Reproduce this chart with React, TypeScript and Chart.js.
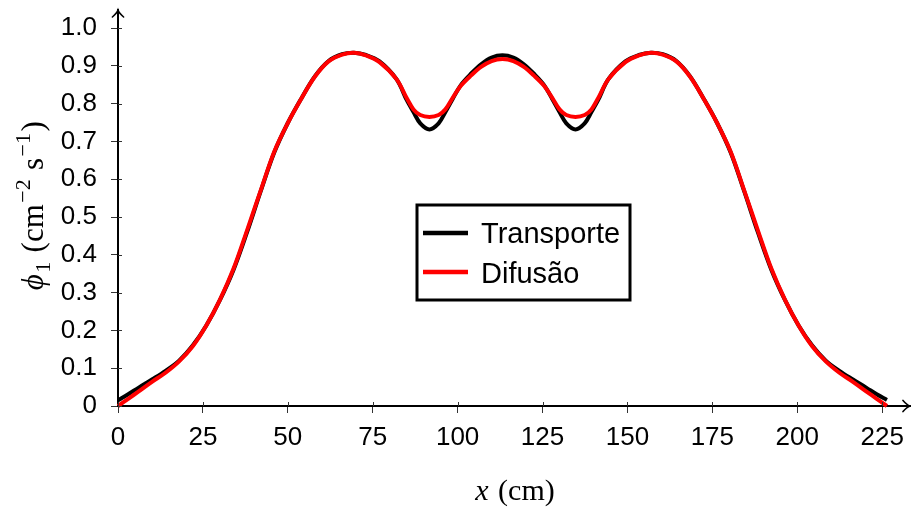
import React, { useEffect, useRef } from "react";
import { Chart, registerables } from "chart.js";

Chart.register(...registerables);

// ---- data ----
const xValues = [
  0, 3, 6, 10, 14, 18, 22, 26, 30, 34, 38, 42, 46, 50, 54, 58, 62, 66, 69.5, 73, 77, 82, 85, 87, 89, 91.7,
  94.4, 96.4, 98.5, 101, 104, 107, 110, 113.2,
  116.4, 119.4, 122.4, 125.4, 127.9, 130, 132, 134.7, 137.4, 139.4, 141.4, 144.4, 149.4, 153.4, 156.9,
  160.4, 164.4, 168.4, 172.4, 176.4, 180.4, 184.4, 188.4, 192.4, 196.4, 200.4, 204.4, 208.4, 212.4,
  216.4, 220.4, 223.4, 226.4,
];

const transporte = [
  0.015, 0.031, 0.048, 0.07, 0.093, 0.12, 0.16, 0.213, 0.28, 0.36, 0.46, 0.568, 0.671, 0.749, 0.814, 0.873,
  0.913, 0.931, 0.935, 0.929, 0.912, 0.865, 0.81, 0.778, 0.748, 0.732, 0.748, 0.778, 0.812, 0.85, 0.88,
  0.905, 0.922, 0.928,
  0.922, 0.905, 0.88, 0.85, 0.812, 0.778, 0.748, 0.732, 0.748, 0.778, 0.81, 0.865, 0.912, 0.929, 0.935,
  0.931, 0.913, 0.873, 0.814, 0.749, 0.671, 0.568, 0.46, 0.36, 0.28, 0.213, 0.16, 0.12, 0.093, 0.07,
  0.048, 0.031, 0.016,
];

const difusao = [
  0.0, 0.019, 0.038, 0.064, 0.088, 0.118, 0.158, 0.213, 0.281, 0.363, 0.465, 0.57, 0.673, 0.749, 0.814,
  0.872, 0.912, 0.93, 0.935, 0.928, 0.91, 0.865, 0.815, 0.785, 0.77, 0.765, 0.77, 0.785, 0.815, 0.848,
  0.875, 0.898, 0.913, 0.918,
  0.913, 0.898, 0.875, 0.848, 0.815, 0.785, 0.77, 0.765, 0.77, 0.785, 0.815, 0.865, 0.91, 0.928, 0.935,
  0.93, 0.912, 0.872, 0.814, 0.749, 0.673, 0.57, 0.465, 0.363, 0.281, 0.213, 0.158, 0.118, 0.088, 0.064,
  0.038, 0.019, 0.0,
];

const xTickValues = [0, 25, 50, 75, 100, 125, 150, 175, 200, 225];
const yTickValues = [0, 0.1, 0.2, 0.3, 0.4, 0.5, 0.6, 0.7, 0.8, 0.9, 1.0];
const yTickLabels = ["0", "0.1", "0.2", "0.3", "0.4", "0.5", "0.6", "0.7", "0.8", "0.9", "1.0"];

const seriesNames = ["Transporte", "Difusão"];
const seriesColors = ["#000000", "#ff0000"];

const X_MAX = 233.2;
const Y_MAX = 1.048;

const SANS = '"Liberation Sans", Arial, sans-serif';
const SERIF = '"Liberation Serif", "DejaVu Serif", serif';

const decorPlugin = {
  id: "decor",
  afterDraw(chart: any) {
    const ctx = chart.ctx as CanvasRenderingContext2D;
    const ca = chart.chartArea;
    ctx.save();

    // inner halves of the tick marks (ticks cross the axis lines)
    ctx.strokeStyle = "#333";
    ctx.lineWidth = 1;
    const xs0 = chart.scales.x;
    const ys0 = chart.scales.y;
    xTickValues.forEach((v) => {
      const px = Math.round(xs0.getPixelForValue(v)) + 0.5;
      ctx.beginPath();
      ctx.moveTo(px, ca.bottom);
      ctx.lineTo(px, ca.bottom - 4);
      ctx.stroke();
    });
    yTickValues.forEach((v) => {
      const py = Math.round(ys0.getPixelForValue(v)) + 0.5;
      ctx.beginPath();
      ctx.moveTo(ca.left, py);
      ctx.lineTo(ca.left + 4, py);
      ctx.stroke();
    });

    // arrow heads
    ctx.strokeStyle = "#000";
    ctx.lineWidth = 1.6;
    ctx.lineCap = "round";
    const ah = 7;
    ctx.beginPath();
    ctx.moveTo(ca.left - ah * 0.8, ca.top + ah);
    ctx.quadraticCurveTo(ca.left - 1, ca.top + 3, ca.left, ca.top);
    ctx.quadraticCurveTo(ca.left + 1, ca.top + 3, ca.left + ah * 0.8, ca.top + ah);
    ctx.stroke();
    ctx.beginPath();
    ctx.moveTo(ca.right - ah, ca.bottom - ah * 0.8);
    ctx.quadraticCurveTo(ca.right - 3, ca.bottom - 1, ca.right, ca.bottom);
    ctx.quadraticCurveTo(ca.right - 3, ca.bottom + 1, ca.right - ah, ca.bottom + ah * 0.8);
    ctx.stroke();

    // legend box
    const lx = 417, ly = 205, lw = 213, lh = 95;
    ctx.fillStyle = "#fff";
    ctx.fillRect(lx, ly, lw, lh);
    ctx.lineWidth = 3;
    ctx.strokeStyle = "#000";
    ctx.strokeRect(lx, ly, lw, lh);
    const rows = [233, 272];
    const baselines = [243, 283];
    ctx.font = `29px ${SANS}`;
    ctx.textBaseline = "alphabetic";
    ctx.textAlign = "left";
    seriesNames.forEach((name, i) => {
      ctx.strokeStyle = seriesColors[i];
      ctx.lineWidth = 4.5;
      ctx.lineCap = "butt";
      ctx.beginPath();
      ctx.moveTo(423, rows[i]);
      ctx.lineTo(468, rows[i]);
      ctx.stroke();
      ctx.fillStyle = "#000";
      ctx.fillText(name, 481, baselines[i]);
    });

    // x axis title
    const xs = 30;
    const xParts = [
      { t: "x", f: `italic ${xs}px ${SERIF}` },
      { t: " (cm)", f: `${xs}px ${SERIF}` },
    ];
    let tw = 0;
    xParts.forEach((p) => { ctx.font = p.f; tw += ctx.measureText(p.t).width + 2; });
    let cx = 516 - tw / 2;
    ctx.fillStyle = "#000";
    xParts.forEach((p) => { ctx.font = p.f; ctx.fillText(p.t, cx, 500); cx += ctx.measureText(p.t).width + 2; });

    // y axis title (rotated)
    const ys = 31;
    const small = Math.round(ys * 0.7);
    const yParts = [
      { t: "\u03D5", f: `italic ${ys}px ${SERIF}`, dy: 0 },
      { t: "1", f: `${small}px ${SERIF}`, dy: ys * 0.22 },
      { t: " (cm", f: `${ys}px ${SERIF}`, dy: 0 },
      { t: "\u22122", f: `${small}px ${SERIF}`, dy: -ys * 0.42 },
      { t: " s", f: `${ys}px ${SERIF}`, dy: 0 },
      { t: "\u22121", f: `${small}px ${SERIF}`, dy: -ys * 0.42 },
      { t: ")", f: `${ys}px ${SERIF}`, dy: 0 },
    ];
    ctx.translate(43, 205);
    ctx.rotate(-Math.PI / 2);
    tw = 0;
    yParts.forEach((p) => { ctx.font = p.f; tw += ctx.measureText(p.t).width + 1.5; });
    cx = -tw / 2;
    yParts.forEach((p) => { ctx.font = p.f; ctx.fillText(p.t, cx, p.dy); cx += ctx.measureText(p.t).width + 1.5; });

    ctx.restore();
  },
};

export default function App() {
  const ref = useRef<HTMLCanvasElement | null>(null);

  useEffect(() => {
    if (!ref.current) return;
    const chart = new Chart(ref.current, {
      type: "line",
      data: {
        datasets: [
          {
            label: seriesNames[0],
            data: xValues.map((x, i) => ({ x, y: transporte[i] })),
            borderColor: seriesColors[0],
            borderWidth: 4,
            pointRadius: 0,
            tension: 0.35,
            fill: false,
            clip: false as any,
            order: 1,
          },
          {
            label: seriesNames[1],
            data: xValues.map((x, i) => ({ x, y: difusao[i] })),
            borderColor: seriesColors[1],
            borderWidth: 4,
            pointRadius: 0,
            tension: 0.35,
            fill: false,
            clip: false as any,
            order: 0,
          },
        ],
      },
      options: {
        animation: false,
        responsive: false,
        layout: { padding: { left: 0, top: 10, right: 1, bottom: 0 } },
        plugins: { legend: { display: false }, tooltip: { enabled: false } },
        scales: {
          x: {
            type: "linear",
            min: 0,
            max: X_MAX,
            afterBuildTicks: (s: any) => { s.ticks = xTickValues.map((v) => ({ value: v })); },
            afterFit: (s: any) => { s.height = 105; s.paddingLeft = 0; s.paddingRight = 0; },
            border: { display: true, color: "#000", width: 2 },
            grid: { drawOnChartArea: false, drawTicks: true, tickLength: 7, color: "#333", tickWidth: 1 },
            ticks: {
              color: "#000",
              font: { family: SANS, size: 26 },
              padding: 9,
              maxRotation: 0,
              autoSkip: false,
              callback: (v: any) => String(v),
            },
          },
          y: {
            type: "linear",
            min: 0,
            max: Y_MAX,
            afterBuildTicks: (s: any) => { s.ticks = yTickValues.map((v) => ({ value: v })); },
            afterFit: (s: any) => { s.width = 118; s.paddingTop = 0; s.paddingBottom = 0; },
            border: { display: true, color: "#000", width: 2 },
            grid: { drawOnChartArea: false, drawTicks: true, tickLength: 7, color: "#333", tickWidth: 1 },
            ticks: {
              color: "#000",
              font: { family: SANS, size: 26 },
              padding: 14,
              autoSkip: false,
              callback: (_v: any, i: number) => yTickLabels[i],
            },
          },
        },
      },
      plugins: [decorPlugin],
    });
    return () => chart.destroy();
  }, []);

  return (
    <div style={{ position: "fixed", left: 0, top: 0, width: 911, height: 511, background: "#fff" }}>
      <canvas ref={ref} width={911} height={511} style={{ display: "block" }} />
    </div>
  );
}
